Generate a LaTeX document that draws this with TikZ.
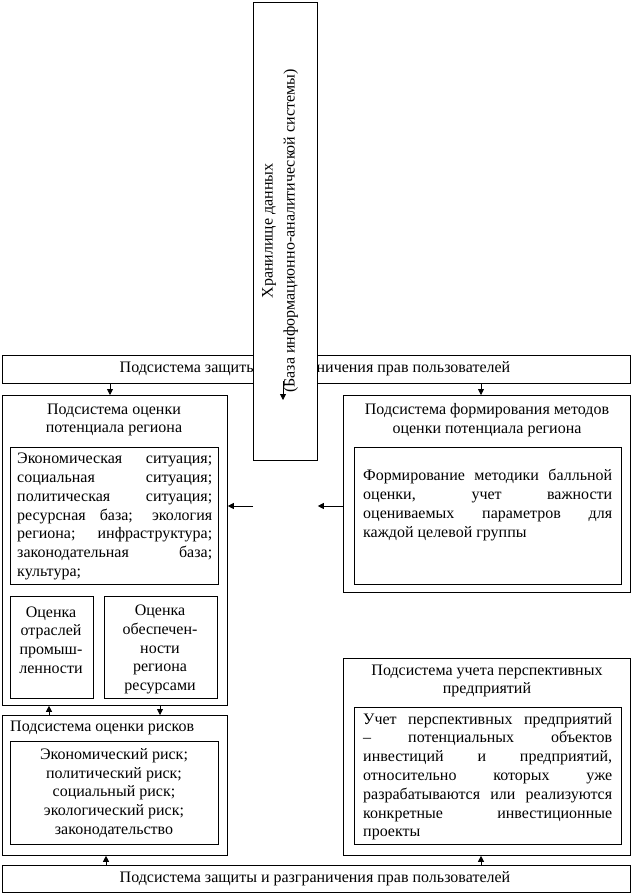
\documentclass[tikz,border=0pt]{standalone}
\usepackage{fontspec}
\setmainfont{Liberation Serif}
\usetikzlibrary{arrows.meta}
\begin{document}
\begin{tikzpicture}[x=1pt,y=-1pt,
  box/.style={draw,line width=0.8pt,fill=white,inner sep=0pt,anchor=north west},
  txt/.style={inner sep=0pt,font=\fontsize{16}{18.8}\selectfont},
  jtxt/.style={txt,anchor=north west,align=justify},
  arr/.style={line width=0.8pt,-{Triangle[length=6pt,width=6pt]}}]
\useasboundingbox (0,0) rectangle (632,894);
% top bar and storage
\node[box,minimum width=628pt,minimum height=28pt] (topbar) at (2,355) {};
\node[txt] (toptext) at (315,369) {Подсистема защиты и разграничения прав пользователей};
\node[box,minimum width=64pt,minimum height=458pt] (vbox) at (253,2) {};
\node[txt,rotate=90,align=center,font=\fontsize{16}{22}\selectfont] (vtext) at (280,231) {Хранилище данных\\(База информационно-аналитической системы)};
\coordinate (va) at (283,381);
\coordinate (vb) at (283,400);
\draw[arr] (va) -- (vb);
% left potential box
\node[box,minimum width=225pt,minimum height=310pt] (lbox) at (2,395) {};
\node[txt,align=center] (ltitle) at (114,420) {Подсистема оценки\\потенциала региона};
\node[box,minimum width=208pt,minimum height=137pt] (lin) at (10,447) {};
\node[jtxt,text width=195pt] (lintext) at (17,453) {Экономическая ситуация;\linebreak социальная ситуация;\linebreak политическая ситуация;\linebreak ресурсная база; экология\linebreak региона; инфраструктура;\linebreak законодательная база;\linebreak культура;};
\node[box,minimum width=83pt,minimum height=102pt] (s1) at (10,596) {};
\node[txt,align=center] (s1text) at (51,640) {Оценка\\отраслей\\промыш-\\ленности};
\node[box,minimum width=113pt,minimum height=102pt] (s2) at (104,596) {};
\node[txt,align=center] (s2text) at (160,649.5) {Оценка\\обеспечен-\\ности\\региона\\ресурсами};
% right methods box
\node[box,minimum width=287pt,minimum height=197pt] (rbox) at (343,395) {};
\node[txt,align=center] (rtitle) at (487,420) {Подсистема формирования методов\\оценки потенциала региона};
\node[box,minimum width=267pt,minimum height=137pt] (rin) at (354,447) {};
\node[jtxt,text width=249pt] (rintext) at (363,469) {Формирование методики балльной\linebreak оценки, учет важности\linebreak оцениваемых параметров для\linebreak каждой целевой группы};
% risk box
\node[box,minimum width=225pt,minimum height=140pt] (riskbox) at (2,715) {};
\node[txt,anchor=west] (risktitle) at (10,728) {Подсистема оценки рисков};
\node[box,minimum width=208pt,minimum height=103pt] (riskin) at (10,741) {};
\node[txt,align=center] (risktext) at (114,793) {Экономический риск;\\политический риск;\\социальный риск;\\экологический риск;\\законодательство};
% prospective enterprises box
\node[box,minimum width=287pt,minimum height=197pt] (pbox) at (343,658) {};
\node[txt,align=center] (ptitle) at (487,681) {Подсистема учета перспективных\\предприятий};
\node[box,minimum width=267pt,minimum height=137pt] (pin) at (354,707) {};
\node[jtxt,text width=249pt] (pintext) at (363,713) {Учет перспективных предприятий\linebreak – потенциальных объектов\linebreak инвестиций и предприятий,\linebreak относительно которых уже\linebreak разрабатываются или реализуются\linebreak конкретные инвестиционные\linebreak проекты};
% bottom bar
\node[box,minimum width=628pt,minimum height=27pt] (botbar) at (2,865) {};
\node[txt] (bottext) at (315,879) {Подсистема защиты и разграничения прав пользователей};
% connectors
\draw[arr] (topbar.south -| 110,0) -- (lbox.north -| 110,0);
\draw[arr] (topbar.south -| 481,0) -- (rbox.north -| 481,0);
\draw[arr] (vbox.south west |- 0,506) -- (lbox.east |- 0,506);
\draw[arr] (rbox.west |- 0,506) -- (vbox.south east |- 0,506);
\draw[arr] (riskbox.north -| 49,0) -- (lbox.south -| 49,0);
\draw[arr] (lbox.south -| 160,0) -- (riskbox.north -| 160,0);
\draw[arr] (botbar.north -| 106,0) -- (riskbox.south -| 106,0);
\draw[arr] (botbar.north -| 481,0) -- (pbox.south -| 481,0);
\end{tikzpicture}
\end{document}
